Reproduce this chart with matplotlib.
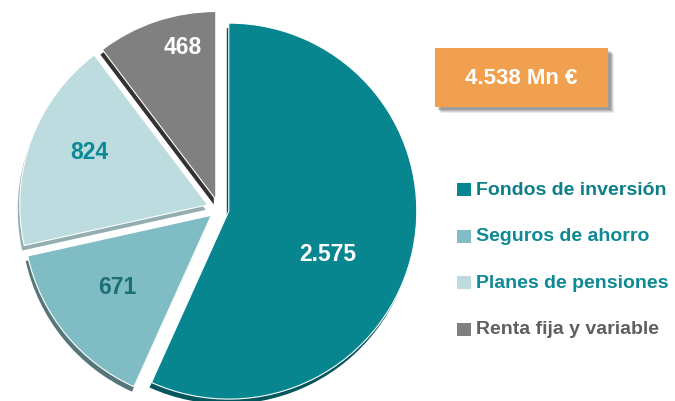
import matplotlib
matplotlib.use('Agg')
import matplotlib.pyplot as plt
from matplotlib.patches import Rectangle
import numpy as np

# Data
categories = ['Fondos de inversión', 'Seguros de ahorro', 'Planes de pensiones', 'Renta fija y variable']
values = [2575, 671, 824, 468]
unit = 'Mn €'

# Styling
colors = ['#08868f', '#80bcc4', '#bddcdf', '#808080']
side_colors = ['#04565d', '#56777a', '#93aeb1', '#333333']
label_colors = ['white', '#1b6f77', '#0b8a95', 'white']
text_colors = ['#0e7f89', '#0e8a94', '#0e8a94', '#5f5f5f']
explode = [10, 10, 12, 10]
label_frac = [0.57, 0.63, 0.69, 0.83]
label_rot = [-11, -2, -4, -6.5]

plt.rcParams['font.family'] = ['Liberation Sans', 'DejaVu Sans']


def fmt(v):
    return f'{v:,}'.replace(',', '.')


fig = plt.figure(figsize=(6.75, 4.02), dpi=100)
ax = fig.add_axes([0, 0, 1, 1])

cx, cy, r = 219, 192, 188
# 3D side of the pie: darker copy shifted down-left
ax.pie(values, explode=explode, radius=r, center=(cx - 2, cy - 5), startangle=90,
       counterclock=False, colors=side_colors, frame=True)
wedges, _ = ax.pie(values, explode=explode, radius=r, center=(cx, cy), startangle=90,
                   counterclock=False, colors=colors, frame=True,
                   wedgeprops=dict(edgecolor='white', linewidth=0.8))

for w, v, c, f, rot in zip(wedges, values, label_colors, label_frac, label_rot):
    a = np.deg2rad((w.theta1 + w.theta2) / 2 + rot)
    x0, y0 = w.center
    ax.text(x0 + f * r * np.cos(a), y0 + f * r * np.sin(a), fmt(v), color=c,
            fontsize=16.5, fontweight='bold', ha='center', va='center')

# Total box
bx, by, bw, bh = 435, 294, 173, 59
for k, al in [(6, 0.08), (5, 0.1), (4, 0.12), (3, 0.15)]:
    ax.add_patch(Rectangle((bx + k, by - k), bw, bh, color='black', alpha=al, lw=0))
ax.add_patch(Rectangle((bx, by), bw, bh, color='#f0a04e', lw=0))
ax.text(bx + bw / 2, by + bh / 2, f'{fmt(sum(values))} {unit}', color='white',
        fontsize=16, fontweight='bold', ha='center', va='center')

# Legend
row0, pitch = 402 - 190.5, 46.5
for i, (name, col, tc) in enumerate(zip(categories, colors, text_colors)):
    yy = row0 - i * pitch
    ax.add_patch(Rectangle((457, yy - 6.5), 14, 13, color=col, lw=0))
    ax.text(476, yy, name, color=tc, fontsize=14, fontweight='bold', ha='left', va='center')

ax.set_xlim(0, 675)
ax.set_ylim(0, 402)
ax.axis('off')

fig.savefig('out.png', dpi=100)
